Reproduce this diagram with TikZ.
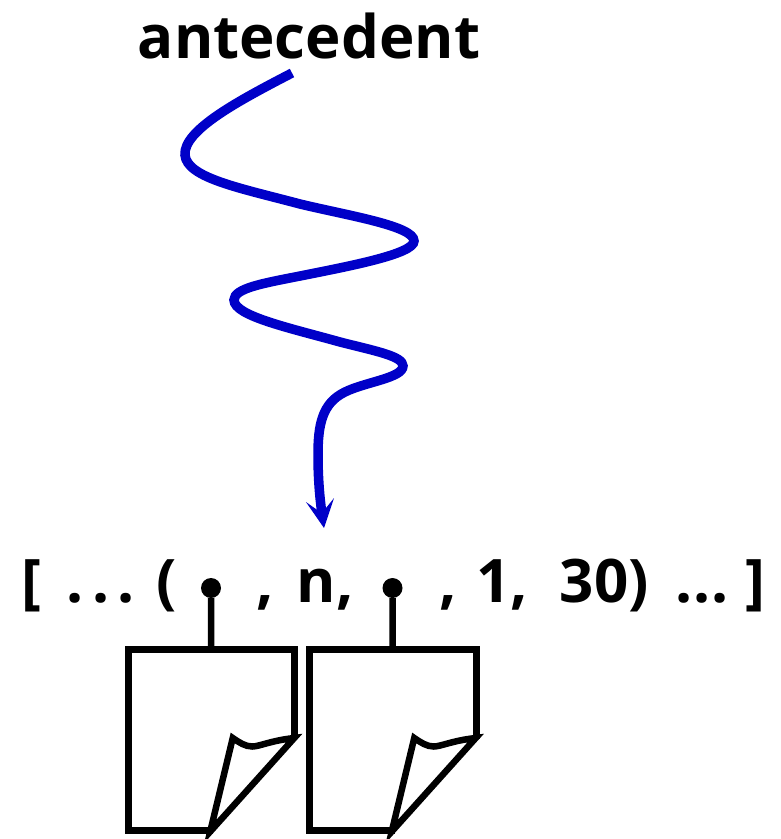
\documentclass[tikz,border=0pt]{standalone}
\usepackage{fontspec}
\setmainfont{Open Sans}
\usetikzlibrary{%
	arrows.meta,%
	positioning,%
}
\definecolor{cwiggle}{RGB}{0, 0, 200}
\newcommand{\widedots}{.\hspace{8pt}.\hspace{8pt}.}
\newcommand{\tightdots}{.\hspace{1pt}.\hspace{1pt}.}
\tikzset{
	>=Stealth,%
	nodes={align=center},%
	labelnode/.style={%
			font={\fontsize{60}{62}\selectfont\bfseries},%
			inner sep=0},%
	dotnode/.style={%
			circle,%
			fill=black,%
			inner sep=0,%
			minimum size=20pt},%
	sheetbox/.style={%
			rectangle,%
			inner sep=0,%
			minimum width=166.5pt,%
			minimum height=181pt},%
	stem/.style={%
			line width=6.5pt},%
	wiggle/.style={%
			cwiggle,%
			line width=9.5pt},%
	pics/sheet/.style={code={%
				\node[sheetbox] (-box) {};%
				\draw[line width=7pt] (83.25,-1) -- (83.25,-90.5) -- (-83.25,-90.5) -- (-83.25,90.5) -- (2,90.5);%
				\draw[line width=6.5pt] (83,-1.5) .. controls (60,1) and (48,7) .. (41,7) .. controls (34,7) and (28,3) .. (21.5,-1.5) -- (-1,92) -- cycle;%
			}},%
}

\begin{document}
\begin{tikzpicture}[x=1pt, y=-1pt]%
	\useasboundingbox (0,0) rectangle (781,839);

	\node[labelnode] (antecedent) at (309,36) {antecedent};
	\node[labelnode] (tuple) at (393.5,585) {[\hspace{26pt}\widedots\hspace{22pt}(\hspace{80pt},\hspace{23pt}n,\hspace{86pt},\hspace{19pt}1,\hspace{32pt}30)\hspace{27pt}\tightdots\hspace{17pt}]};

	\coordinate (wigglestart) at (292,73);
	\coordinate (wiggleend) at (324,528);

	\node[dotnode] (dotA) at (211,588) {};
	\node[dotnode] (dotB) at (392.5,588) {};

	\pic (sheetA) at (211.25,739.5) {sheet};
	\pic (sheetB) at (392.75,739.5) {sheet};

	\draw[wiggle, ->, >={Stealth[length=28pt, width=28pt, inset=13pt]}] (wigglestart)
		.. controls (240,100) and (183,130) .. (185,155)
		.. controls (187,178) and (240,188) .. (300,204)
		.. controls (350,216) and (414,226) .. (414,241)
		.. controls (414,254) and (350,266) .. (300,276)
		.. controls (265,283) and (234,288) .. (234,300)
		.. controls (234,316) and (290,328) .. (340,342)
		.. controls (375,351) and (403,356) .. (403,366)
		.. controls (403,378) and (365,382) .. (345,392)
		.. controls (322,403) and (318,425) .. (318,455)
		.. controls (318,480) and (320,500) .. (wiggleend);

	\draw[stem] (dotA) to (sheetA-box.north);
	\draw[stem] (dotB) to (sheetB-box.north);
\end{tikzpicture}
\end{document}
